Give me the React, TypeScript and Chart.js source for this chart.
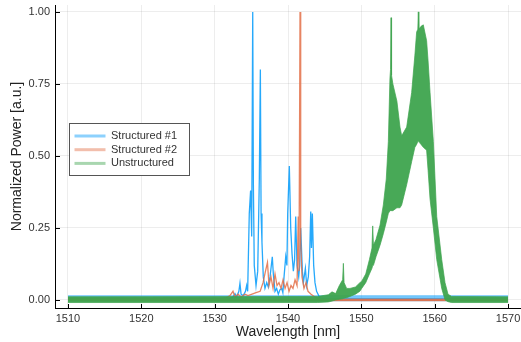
import React, { useEffect, useRef } from 'react';
import { Chart, registerables } from 'chart.js';

Chart.register(...registerables);

const seriesNames = ['Structured #1', 'Structured #2', 'Unstructured'];
const xTicks = [1510, 1520, 1530, 1540, 1550, 1560, 1570];
const yTicks = [0, 0.25, 0.5, 0.75, 1.0];

// Structured #1 (blue) spectrum
const s1X = [1510, 1532.0, 1532.5, 1532.77, 1533.0, 1533.3, 1533.45, 1533.6, 1533.9, 1534.2, 1534.36, 1534.5, 1534.72, 1534.9, 1535.05, 1535.19, 1535.28, 1535.4, 1535.64, 1535.87, 1536.09, 1536.23, 1536.33, 1536.45, 1536.63, 1536.86, 1537.1, 1537.31, 1537.55, 1537.86, 1538.0, 1538.23, 1538.45, 1538.68, 1538.9, 1539.14, 1539.3, 1539.46, 1539.69, 1539.85, 1539.96, 1540.18, 1540.37, 1540.55, 1540.73, 1540.9, 1541.05, 1541.23, 1541.46, 1541.6, 1541.73, 1541.96, 1542.1, 1542.37, 1542.55, 1542.77, 1542.95, 1543.1, 1543.2, 1543.32, 1543.5, 1543.68, 1543.9, 1544.36, 1545, 1570];
const s1Y = [0.004, 0.004, 0.01, 0.022, 0.01, 0.03, 0.058, 0.02, 0.015, 0.03, 0.05, 0.03, 0.3, 0.38, 0.22, 1.0, 0.4, 0.12, 0.05, 0.1, 0.42, 0.8, 0.3, 0.2, 0.08, 0.04, 0.06, 0.045, 0.08, 0.15, 0.09, 0.03, 0.04, 0.02, 0.035, 0.04, 0.025, 0.08, 0.15, 0.12, 0.3, 0.465, 0.25, 0.16, 0.1, 0.14, 0.29, 0.12, 0.08, 0.12, 0.25, 0.1, 0.06, 0.11, 0.05, 0.08, 0.15, 0.307, 0.18, 0.3, 0.12, 0.06, 0.03, 0.006, 0.004, 0.004];
const s1NoiseX = [1510, 1570];
const s1NoiseHi = [0.015, 0.015];
const s1NoiseLo = [-0.004, -0.004];

// Structured #2 (orange) spectrum
const s2X = [1510, 1531.0, 1531.4, 1532.09, 1532.5, 1532.77, 1533.18, 1533.6, 1534.14, 1534.55, 1535.1, 1535.64, 1536.2, 1536.6, 1536.93, 1537.2, 1537.41, 1537.68, 1537.96, 1538.23, 1538.5, 1538.77, 1539.05, 1539.32, 1539.6, 1539.87, 1540.14, 1540.41, 1540.68, 1540.96, 1541.23, 1541.4, 1541.5, 1541.64, 1541.73, 1541.91, 1542.18, 1542.46, 1542.73, 1543.14, 1543.68, 1544.36, 1570];
const s2Y = [0.003, 0.003, 0.005, 0.015, 0.03, 0.01, 0.02, 0.01, 0.02, 0.015, 0.02, 0.025, 0.03, 0.06, 0.1, 0.13, 0.05, 0.08, 0.04, 0.09, 0.05, 0.06, 0.04, 0.07, 0.04, 0.06, 0.03, 0.05, 0.04, 0.07, 0.05, 0.29, 0.1, 1.0, 0.2, 0.08, 0.04, 0.06, 0.03, 0.02, 0.01, 0.0, -0.001];
const s2NoiseX = [1510, 1570];
const s2NoiseHi = [0.004, 0.004];
const s2NoiseLo = [-0.004, -0.004];

// Unstructured (green) envelope
const gX = [1510, 1544.0, 1545.5, 1546.0, 1546.5, 1547.0, 1547.45, 1547.55, 1547.65, 1548.0, 1548.45, 1549.2, 1549.8, 1550.05, 1550.6, 1551.1, 1551.45, 1551.55, 1551.65, 1552.0, 1552.55, 1553.0, 1553.4, 1553.68, 1553.9, 1553.98, 1554.05, 1554.12, 1554.3, 1554.85, 1555.27, 1555.5, 1556.18, 1556.86, 1557.3, 1557.54, 1557.7, 1557.77, 1557.84, 1558.14, 1558.45, 1558.9, 1559.1, 1559.37, 1559.82, 1560.28, 1560.96, 1561.41, 1561.82, 1562.3, 1570];
const gHi = [0.011, 0.012, 0.018, 0.028, 0.022, 0.05, 0.07, 0.127, 0.06, 0.04, 0.04, 0.045, 0.06, 0.065, 0.09, 0.14, 0.18, 0.257, 0.19, 0.21, 0.26, 0.33, 0.42, 0.55, 0.77, 0.8, 0.98, 0.78, 0.75, 0.69, 0.6, 0.57, 0.6, 0.72, 0.85, 0.93, 0.94, 1.0, 0.94, 0.95, 0.955, 0.9, 0.83, 0.72, 0.55, 0.29, 0.14, 0.06, 0.02, 0.012, 0.011];
const gLo = [-0.009, -0.009, -0.007, -0.004, 0.0, 0.002, 0.004, 0.005, 0.006, 0.008, 0.012, 0.02, 0.03, 0.04, 0.06, 0.09, 0.11, 0.12, 0.12, 0.15, 0.19, 0.23, 0.27, 0.3, 0.31, 0.31, 0.31, 0.31, 0.31, 0.32, 0.32, 0.33, 0.4, 0.48, 0.53, 0.54, 0.55, 0.55, 0.55, 0.54, 0.53, 0.52, 0.45, 0.35, 0.25, 0.14, 0.04, 0.0, -0.006, -0.009, -0.009];

const BLUE = (a: number) => `rgba(0,154,250,${a})`;
const ORANGE = (a: number) => `rgba(227,111,71,${a})`;
const GREEN = (a: number) => `rgba(62,164,78,${a})`;
const FONT = 'Liberation Sans, Arial, sans-serif';

const pts = (xs: number[], ys: number[]) => xs.map((x, i) => ({ x, y: ys[i] }));

const inwardTicks = {
  id: 'inwardTicks',
  afterDraw(chart: any) {
    const { ctx, chartArea, scales } = chart;
    ctx.save();
    ctx.strokeStyle = '#000';
    ctx.lineWidth = 1;
    ctx.beginPath();
    xTicks.forEach((v) => {
      const px = Math.round(scales.x.getPixelForValue(v)) + 0.5;
      ctx.moveTo(px, chartArea.bottom);
      ctx.lineTo(px, chartArea.bottom - 4);
    });
    yTicks.forEach((v) => {
      const py = Math.round(scales.y.getPixelForValue(v)) + 0.5;
      ctx.moveTo(chartArea.left, py);
      ctx.lineTo(chartArea.left + 5, py);
    });
    ctx.stroke();
    ctx.restore();
  },
};

const boxLegend = {
  id: 'boxLegend',
  afterDraw(chart: any) {
    const { ctx, chartArea } = chart;
    const left = Math.round(chartArea.left + 14) + 0.5;
    const top = Math.round(chartArea.top + 118) + 0.5;
    const w = 120;
    const h = 52;
    ctx.save();
    ctx.fillStyle = '#ffffff';
    ctx.fillRect(left, top, w, h);
    ctx.strokeStyle = '#555';
    ctx.lineWidth = 1;
    ctx.strokeRect(left, top, w, h);
    const colors = [BLUE(0.45), ORANGE(0.45), GREEN(0.45)];
    ctx.font = `11px ${FONT}`;
    ctx.textBaseline = 'middle';
    ctx.textAlign = 'left';
    seriesNames.forEach((name, i) => {
      const y = top + 12.5 + i * 13.7;
      ctx.strokeStyle = colors[i];
      ctx.lineWidth = 3;
      ctx.beginPath();
      ctx.moveTo(left + 5, y);
      ctx.lineTo(left + 36, y);
      ctx.stroke();
      ctx.fillStyle = '#333';
      ctx.fillText(name, left + 41.5, y);
    });
    ctx.restore();
  },
};

export default function App() {
  const ref = useRef<HTMLCanvasElement | null>(null);
  useEffect(() => {
    if (!ref.current) return;
    const chart = new Chart(ref.current, {
      type: 'line',
      data: {
        datasets: [
          { label: 'gLo', data: pts(gX, gLo), borderColor: GREEN(0.7), borderWidth: 1, fill: false, order: 0 },
          { label: seriesNames[2], data: pts(gX, gHi), borderColor: GREEN(0.7), borderWidth: 1, backgroundColor: GREEN(0.95), fill: 0, order: 0 },
          { label: seriesNames[1], data: pts(s2X, s2Y), borderColor: ORANGE(0.85), borderWidth: 1.3, fill: false, order: 1 },
          { label: 's2Lo', data: pts(s2NoiseX, s2NoiseLo), borderColor: ORANGE(0.6), borderWidth: 0.5, fill: false, order: 1 },
          { label: 's2Hi', data: pts(s2NoiseX, s2NoiseHi), borderColor: ORANGE(0.6), borderWidth: 0.5, backgroundColor: ORANGE(0.8), fill: 3, order: 1 },
          { label: seriesNames[0], data: pts(s1X, s1Y), borderColor: BLUE(0.85), borderWidth: 1.3, fill: false, order: 2 },
          { label: 's1Lo', data: pts(s1NoiseX, s1NoiseLo), borderColor: BLUE(0.5), borderWidth: 0.5, fill: false, order: 2 },
          { label: 's1Hi', data: pts(s1NoiseX, s1NoiseHi), borderColor: BLUE(0.5), borderWidth: 0.5, backgroundColor: BLUE(0.55), fill: 6, order: 2 },
        ],
      },
      options: {
        animation: false,
        responsive: false,
        maintainAspectRatio: false,
        layout: { padding: { top: 5, left: 0, right: 0, bottom: 0 } },
        elements: { point: { radius: 0 }, line: { tension: 0 } },
        plugins: { legend: { display: false }, tooltip: { enabled: false } },
        scales: {
          x: {
            type: 'linear',
            min: 1508.23,
            max: 1571.77,
            afterBuildTicks: (s: any) => { s.ticks = xTicks.map((v) => ({ value: v })); },
            afterFit: (s: any) => { s.height = 34; s.paddingLeft = 0; s.paddingRight = 0; },
            grid: { color: 'rgba(0,0,0,0.07)', drawTicks: false },
            border: { display: true, color: '#000', width: 1 },
            ticks: { autoSkip: false, maxRotation: 0, padding: 4, color: '#333', font: { family: FONT, size: 11 }, callback: (v: any) => String(v) },
            title: { display: true, text: 'Wavelength [nm]', color: '#222', font: { family: FONT, size: 14 }, padding: { top: 0, bottom: 1 } },
          },
          y: {
            type: 'linear',
            min: -0.028,
            max: 1.024,
            afterBuildTicks: (s: any) => { s.ticks = yTicks.map((v) => ({ value: v })); },
            afterFit: (s: any) => { s.width = 55; s.paddingTop = 0; s.paddingBottom = 0; },
            grid: { color: 'rgba(0,0,0,0.07)', drawTicks: false },
            border: { display: true, color: '#000', width: 1 },
            ticks: { padding: 5, color: '#333', font: { family: FONT, size: 11 }, callback: (v: any) => Number(v).toFixed(2) },
            title: { display: true, text: 'Normalized Power [a.u.]', color: '#222', font: { family: FONT, size: 14 }, padding: { top: 9, bottom: 0 } },
          },
        },
      },
      plugins: [inwardTicks, boxLegend],
    } as any);
    return () => chart.destroy();
  }, []);
  return (
    <div style={{ position: 'absolute', left: 0, top: 0, width: 521, height: 342, background: '#fff' }}>
      <canvas ref={ref} width={521} height={342} style={{ display: 'block' }} />
    </div>
  );
}
